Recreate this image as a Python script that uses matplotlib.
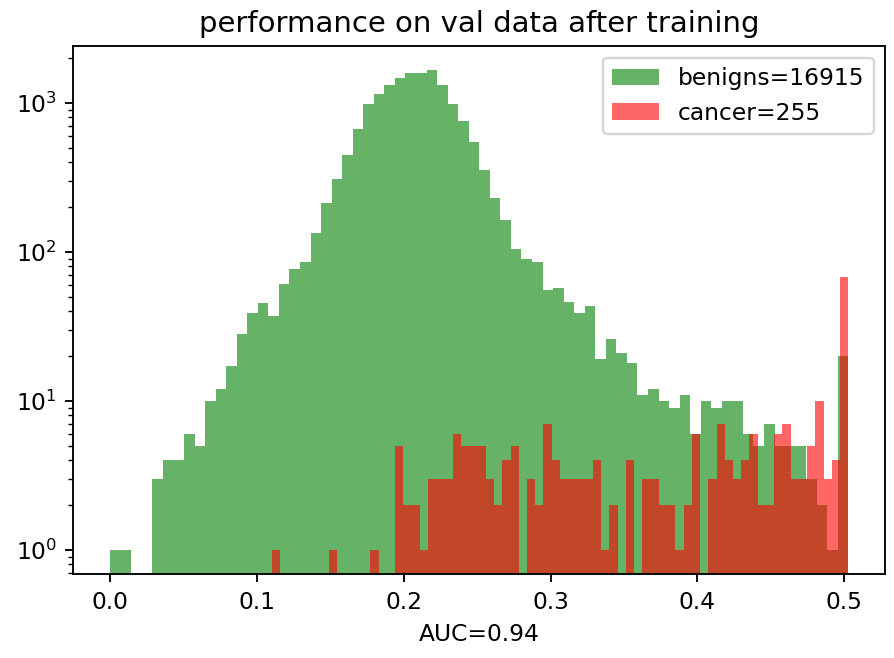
import numpy as np
import matplotlib
matplotlib.use("Agg")
import matplotlib.pyplot as plt

# 70 bins each
benign_range = (0.0, 0.5028)
cancer_range = (0.1099, 0.5028)

benign_counts = [1, 1, 0, 0, 3, 4, 4, 6, 5, 10,
                 12, 17, 28, 39, 45, 37, 61, 77, 85, 134,
                 211, 306, 445, 671, 979, 1142, 1325, 1475, 1588, 1588,
                 1659, 1325, 979, 753, 542, 356, 228, 164, 104, 90,
                 85, 55, 57, 46, 39, 43, 19, 26, 21, 18,
                 11, 12, 10, 9, 11, 6, 10, 9, 10, 10,
                 6, 5, 7, 5, 5, 5, 3, 2, 1, 20]

cancer_counts = [1, 0, 0, 0, 0, 0, 0, 1, 0, 0,
                 0, 0, 1, 0, 0, 5, 2, 2, 1, 3,
                 3, 3, 6, 5, 5, 5, 3, 2, 4, 5,
                 0, 3, 2, 7, 4, 3, 3, 3, 3, 4,
                 1, 2, 0, 4, 0, 3, 3, 2, 2, 1,
                 2, 6, 0, 3, 7, 4, 3, 4, 6, 2,
                 2, 6, 7, 3, 3, 5, 10, 3, 4, 68]

labels = ["benigns=16915", "cancer=255"]

dpi = 168
fig = plt.figure(figsize=(894.2 / dpi, 658.2 / dpi), dpi=dpi)
ax = fig.add_axes([0.082, 0.1272, 0.908, 0.8026])

b_edges = np.linspace(benign_range[0], benign_range[1], len(benign_counts) + 1)
c_edges = np.linspace(cancer_range[0], cancer_range[1], len(cancer_counts) + 1)
b_mid = (b_edges[:-1] + b_edges[1:]) / 2
c_mid = (c_edges[:-1] + c_edges[1:]) / 2

ax.hist(b_mid, bins=b_edges, weights=benign_counts, color='g', alpha=0.6, label=labels[0])
ax.hist(c_mid, bins=c_edges, weights=cancer_counts, color='r', alpha=0.6, label=labels[1])
ax.set_yscale('log')
ax.set_ylim(0.684, 2406)

ax.set_title("performance on val data after training", fontsize=12.5)
ax.set_xlabel("AUC=0.94")
ax.legend(loc='upper right')

fig.savefig("out.png", dpi=dpi)
